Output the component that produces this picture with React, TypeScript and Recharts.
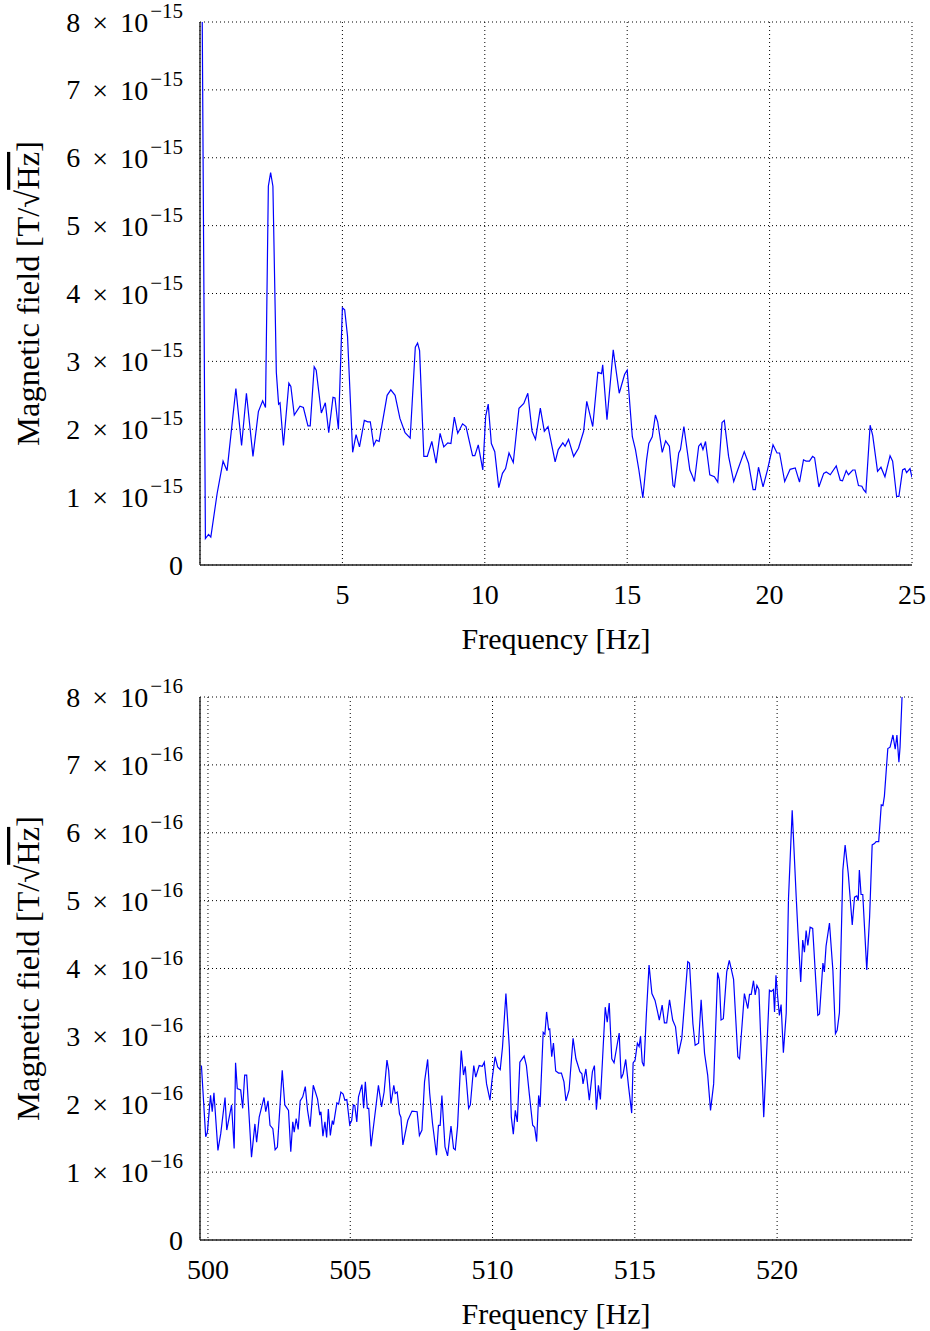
import React from "react";
import { LineChart, Line, XAxis, YAxis, CartesianGrid, Label } from "recharts";

// low-frequency spectrum (values in units of 1e-15 T/sqrt(Hz))
const lowFreq = [
  0.05, 0.19, 0.3, 0.38, 0.6, 0.81, 0.95, 1.26, 1.46, 1.63, 1.86, 2.05, 2.2, 2.3, 2.4, 2.48, 2.56, 2.68, 2.76, 2.81,
  2.93, 3.12, 3.19, 3.31, 3.51, 3.63, 3.79, 3.87, 4.01, 4.08, 4.26, 4.4, 4.52, 4.67, 4.74, 4.86, 5.0, 5.08, 5.18, 5.36,
  5.48, 5.6, 5.77, 5.89, 5.98, 6.1, 6.19, 6.29, 6.57, 6.7, 6.85, 7.02, 7.2, 7.38, 7.56, 7.64, 7.71, 7.86, 7.98, 8.14,
  8.29, 8.43, 8.56, 8.7, 8.81, 8.93, 9.05, 9.22, 9.34, 9.57, 9.65, 9.77, 9.93, 10.03, 10.12, 10.23, 10.35, 10.49, 10.62, 10.73,
  10.85, 11.0, 11.2, 11.37, 11.51, 11.66, 11.78, 11.95, 12.09, 12.22, 12.47, 12.58, 12.74, 12.82, 12.94, 13.12, 13.29, 13.47, 13.58, 13.79,
  13.97, 14.1, 14.14, 14.29, 14.51, 14.72, 14.91, 15.0, 15.18, 15.29, 15.41, 15.55, 15.68, 15.76, 15.88, 15.99, 16.07, 16.23, 16.35, 16.48,
  16.61, 16.66, 16.81, 16.87, 16.99, 17.2, 17.28, 17.36, 17.51, 17.59, 17.66, 17.75, 17.9, 18.06, 18.18, 18.33, 18.41, 18.56, 18.74, 18.88,
  19.11, 19.26, 19.42, 19.5, 19.61, 19.77, 19.93, 20.12, 20.26, 20.35, 20.53, 20.72, 20.9, 21.05, 21.19, 21.28, 21.4, 21.51, 21.58, 21.73,
  21.9, 21.99, 22.13, 22.34, 22.48, 22.56, 22.69, 22.77, 22.92, 23.0, 23.12, 23.24, 23.3, 23.38, 23.53, 23.62, 23.79, 23.91, 24.05, 24.23,
  24.32, 24.46, 24.54, 24.67, 24.75, 24.81, 24.93, 25.0,
];
const lowField = [
  10, 0.39, 0.45, 0.41, 1.05, 1.53, 1.39, 2.6, 1.76, 2.53, 1.6, 2.26, 2.42, 2.32, 5.58, 5.78, 5.58, 2.84, 2.37, 2.39,
  1.76, 2.68, 2.63, 2.21, 2.34, 2.32, 2.05, 2.05, 2.92, 2.87, 2.24, 2.39, 1.95, 2.47, 2.46, 2.0, 3.79, 3.76, 3.37, 1.66,
  1.92, 1.74, 2.13, 2.11, 2.11, 1.76, 1.84, 1.82, 2.5, 2.58, 2.5, 2.16, 1.95, 1.87, 3.21, 3.27, 3.16, 1.6, 1.6, 1.82,
  1.5, 1.94, 1.74, 1.8, 1.79, 2.18, 1.94, 2.08, 2.04, 1.61, 1.61, 1.77, 1.4, 2.19, 2.37, 1.79, 1.67, 1.14, 1.35, 1.42,
  1.65, 1.51, 2.31, 2.38, 2.53, 1.97, 1.85, 2.31, 1.97, 2.04, 1.52, 1.7, 1.8, 1.75, 1.85, 1.6, 1.72, 1.97, 2.41, 2.04,
  2.84, 2.82, 2.95, 2.14, 3.17, 2.53, 2.81, 2.87, 1.89, 1.7, 1.4, 0.99, 1.55, 1.79, 1.89, 2.21, 2.11, 1.66, 1.83, 1.75,
  1.17, 1.15, 1.65, 1.7, 2.04, 1.4, 1.32, 1.23, 1.75, 1.79, 1.7, 1.82, 1.33, 1.3, 1.22, 2.1, 2.13, 1.6, 1.23, 1.4,
  1.67, 1.5, 1.11, 1.11, 1.44, 1.15, 1.41, 1.77, 1.65, 1.65, 1.23, 1.41, 1.43, 1.22, 1.55, 1.53, 1.53, 1.6, 1.58, 1.15,
  1.35, 1.37, 1.33, 1.46, 1.25, 1.24, 1.39, 1.33, 1.4, 1.4, 1.17, 1.16, 1.11, 1.07, 2.06, 1.91, 1.38, 1.44, 1.3, 1.61,
  1.53, 1.01, 1.01, 1.4, 1.42, 1.36, 1.42, 1.29,
];

// 500-525 Hz spectrum (values in units of 1e-16 T/sqrt(Hz))
const highFreq = [
  499.77, 499.92, 499.98, 500.09, 500.15, 500.21, 500.35, 500.45, 500.6, 500.66, 500.83, 500.92, 500.97, 501.03, 501.15, 501.22, 501.29, 501.36, 501.53, 501.65,
  501.71, 501.8, 501.97, 502.03, 502.11, 502.18, 502.28, 502.36, 502.44, 502.61, 502.7, 502.83, 502.91, 502.98, 503.03, 503.1, 503.17, 503.24, 503.33, 503.42,
  503.5, 503.59, 503.7, 503.85, 503.93, 503.97, 504.04, 504.11, 504.17, 504.23, 504.3, 504.37, 504.41, 504.53, 504.59, 504.67, 504.75, 504.81, 504.88, 504.98,
  505.05, 505.11, 505.16, 505.23, 505.29, 505.41, 505.47, 505.53, 505.6, 505.65, 505.73, 505.9, 505.99, 506.1, 506.19, 506.29, 506.35, 506.43, 506.53, 506.58,
  506.65, 506.73, 506.78, 506.85, 507.02, 507.17, 507.35, 507.43, 507.52, 507.61, 507.72, 507.79, 507.89, 508.03, 508.1, 508.16, 508.22, 508.33, 508.42, 508.54,
  508.63, 508.69, 508.77, 508.9, 508.98, 509.04, 509.16, 509.22, 509.34, 509.41, 509.53, 509.64, 509.71, 509.79, 509.91, 509.98, 510.09, 510.18, 510.27, 510.35,
  510.47, 510.59, 510.66, 510.73, 510.8, 510.87, 510.96, 511.11, 511.19, 511.29, 511.41, 511.48, 511.55, 511.62, 511.67, 511.78, 511.84, 511.9, 511.97, 512.01,
  512.08, 512.14, 512.22, 512.32, 512.42, 512.51, 512.58, 512.69, 512.83, 512.93, 513.07, 513.14, 513.18, 513.28, 513.4, 513.51, 513.58, 513.65, 513.72, 513.79,
  513.86, 513.96, 514.03, 514.1, 514.19, 514.27, 514.45, 514.52, 514.59, 514.68, 514.78, 514.89, 514.94, 515.01, 515.09, 515.15, 515.2, 515.26, 515.32, 515.41,
  515.5, 515.6, 515.71, 515.79, 515.86, 515.96, 516.04, 516.12, 516.22, 516.33, 516.43, 516.53, 516.65, 516.86, 516.92, 517.04, 517.12, 517.24, 517.33, 517.45,
  517.56, 517.66, 517.77, 517.91, 517.97, 518.03, 518.11, 518.23, 518.32, 518.47, 518.62, 518.68, 518.85, 518.97, 519.03, 519.09, 519.17, 519.23, 519.29, 519.36,
  519.53, 519.73, 519.79, 519.87, 519.91, 519.96, 520.02, 520.08, 520.14, 520.22, 520.32, 520.4, 520.53, 520.67, 520.73, 520.83, 520.9, 520.96, 521.02, 521.08,
  521.16, 521.25, 521.43, 521.49, 521.61, 521.66, 521.72, 521.84, 521.96, 522.05, 522.11, 522.19, 522.31, 522.39, 522.5, 522.64, 522.72, 522.8, 522.85, 522.89,
  522.95, 523.01, 523.15, 523.25, 523.34, 523.42, 523.48, 523.57, 523.66, 523.72, 523.77, 523.89, 523.97, 524.07, 524.15, 524.21, 524.28, 524.32, 524.39, 524.5,
];
const highField = [
  2.57, 1.52, 1.59, 2.13, 1.89, 2.17, 1.32, 1.57, 2.1, 1.62, 1.99, 1.35, 2.61, 2.23, 2.21, 1.94, 2.43, 2.43, 1.22, 1.71,
  1.44, 1.81, 2.1, 1.89, 2.05, 1.69, 1.64, 1.33, 1.37, 2.5, 1.99, 1.91, 1.3, 1.74, 1.59, 1.79, 1.63, 2.05, 2.11, 2.26,
  1.91, 1.67, 2.28, 2.08, 1.84, 1.89, 1.53, 1.74, 1.51, 1.93, 1.54, 1.76, 1.7, 2.02, 2.0, 2.18, 2.15, 2.06, 2.07, 1.7,
  1.76, 1.99, 1.98, 1.74, 2.11, 2.29, 1.94, 2.33, 1.94, 1.94, 1.38, 1.96, 2.28, 1.96, 2.18, 2.65, 2.5, 2.01, 2.28, 2.16,
  2.18, 1.86, 1.81, 1.4, 1.76, 1.9, 1.89, 1.54, 1.62, 2.33, 2.66, 2.17, 1.72, 1.25, 1.69, 1.69, 2.13, 1.37, 1.24, 1.68,
  1.35, 1.33, 1.67, 2.79, 2.43, 2.56, 1.94, 1.99, 2.57, 2.4, 2.57, 2.56, 2.62, 2.3, 2.06, 2.35, 2.7, 2.55, 2.51, 2.84,
  3.63, 2.84, 1.81, 1.56, 1.91, 1.74, 2.62, 2.71, 2.57, 2.16, 1.69, 1.66, 1.45, 2.13, 1.96, 3.06, 3.03, 3.36, 3.1, 3.11,
  2.7, 2.9, 2.49, 2.46, 2.46, 2.33, 2.05, 2.21, 2.97, 2.67, 2.48, 2.45, 2.3, 2.52, 2.06, 2.48, 2.57, 1.92, 2.28, 2.07,
  2.62, 3.43, 3.21, 3.49, 2.67, 2.61, 3.05, 2.38, 2.45, 2.66, 2.26, 1.87, 2.61, 2.65, 2.9, 2.85, 3.0, 2.62, 2.56, 3.36,
  4.05, 3.63, 3.53, 3.38, 3.24, 3.46, 3.2, 3.2, 3.54, 3.24, 3.14, 2.74, 2.97, 4.1, 4.08, 3.19, 2.87, 2.9, 3.54, 2.75,
  2.43, 1.91, 2.3, 3.94, 3.83, 3.24, 3.26, 3.95, 4.12, 3.84, 2.7, 2.67, 3.63, 3.41, 3.62, 3.62, 3.82, 3.61, 3.75, 3.69,
  1.81, 3.68, 3.66, 3.69, 3.36, 3.9, 3.58, 3.31, 3.47, 2.76, 3.34, 5.03, 6.33, 5.06, 4.56, 3.8, 4.42, 4.24, 4.56, 4.34,
  4.61, 4.59, 3.31, 3.33, 4.08, 3.95, 4.33, 4.67, 3.97, 3.04, 3.09, 3.35, 5.45, 5.82, 5.4, 4.64, 5.05, 5.07, 5.0, 5.45,
  5.09, 5.09, 3.98, 4.76, 5.82, 5.84, 5.87, 5.87, 6.41, 6.4, 6.54, 7.24, 7.26, 7.44, 7.23, 7.44, 7.04, 7.26, 8.0, 9.5,
];

const lowTicks = [5, 10, 15, 20, 25];
const highTicks = [500, 505, 510, 515, 520];
const fieldTicks = [0, 1, 2, 3, 4, 5, 6, 7, 8];

const FONT = "'Liberation Serif', 'Times New Roman', serif";

const zip = (xs: number[], ys: number[]) => xs.map((f, i) => ({ f, b: ys[i] }));

function YTick({ x, y, payload, exp }: any) {
  if (payload.value === 0) {
    return (
      <text x={x - 17} y={y} textAnchor="end" dominantBaseline="central" fontFamily={FONT} fontSize={28} fill="#000">
        0
      </text>
    );
  }
  return (
    <text x={x - 17} y={y} textAnchor="end" dominantBaseline="central" fontFamily={FONT} fontSize={28} fill="#000">
      {payload.value}
      <tspan dx={12}>×</tspan>
      <tspan dx={12}>10</tspan>
      <tspan dx={2} dy={-11} fontSize={21}>{exp}</tspan>
    </text>
  );
}

function XTick({ x, y, payload }: any) {
  return (
    <text x={x} y={y + 29} textAnchor="middle" dominantBaseline="central" fontFamily={FONT} fontSize={28} fill="#000">
      {payload.value}
    </text>
  );
}

function XLabel({ viewBox }: any) {
  return (
    <text x={viewBox.x + viewBox.width / 2} y={viewBox.y + 73} textAnchor="middle" dominantBaseline="central" fontFamily={FONT} fontSize={30} fill="#000">
      Frequency [Hz]
    </text>
  );
}

function YLabel({ viewBox }: any) {
  const cx = 28;
  const cy = viewBox.y + viewBox.height / 2;
  return (
    <text x={cx} y={cy} transform={`rotate(-90, ${cx}, ${cy})`} textAnchor="middle" dominantBaseline="central" fontFamily={FONT} fontSize={32.5} fill="#000">
      {"Magnetic field [T/√"}
      <tspan style={{ textDecoration: "overline" }}>Hz</tspan>
      {"]"}
    </text>
  );
}

function Panel({ data, domain, ticks, exp, height, bottom }: any) {
  return (
    <LineChart width={930} height={height} data={data} margin={{ top: 22, right: 18, bottom, left: 8 }}>
      <CartesianGrid stroke="#000" strokeDasharray="1 3" strokeWidth={1} />
      <XAxis
        dataKey="f"
        type="number"
        domain={domain}
        ticks={ticks}
        allowDataOverflow
        height={60}
        tickSize={0}
        tickMargin={0}
        tick={<XTick />}
        axisLine={{ stroke: "#222", strokeWidth: 1.4 }}
      >
        <Label content={<XLabel />} />
      </XAxis>
      <XAxis xAxisId="top" orientation="top" dataKey="f" type="number" domain={domain} allowDataOverflow height={0} tick={false} tickLine={false} axisLine={{ stroke: "#222", strokeWidth: 1.4 }} />
      <YAxis
        type="number"
        domain={[0, 8]}
        ticks={fieldTicks}
        allowDataOverflow
        width={192}
        tickSize={0}
        tickMargin={0}
        tick={<YTick exp={exp} />}
        axisLine={{ stroke: "#222", strokeWidth: 1.4 }}
      >
        <Label content={<YLabel />} />
      </YAxis>
      <YAxis yAxisId="right" orientation="right" type="number" domain={[0, 8]} allowDataOverflow width={0} tick={false} tickLine={false} axisLine={{ stroke: "#222", strokeWidth: 1.4 }} />
      <Line type="linear" dataKey="b" stroke="#0000ff" strokeWidth={1.2} dot={false} isAnimationActive={false} />
    </LineChart>
  );
}

export default function App() {
  return (
    <div style={{ width: 930 }}>
      <style>{"body { margin: 0; } svg.recharts-surface { overflow: visible; }"}</style>
      <Panel data={zip(lowFreq, lowField)} domain={[0, 25]} ticks={lowTicks} exp="−15" height={675} bottom={50} />
      <Panel data={zip(highFreq, highField)} domain={[499.72, 524.74]} ticks={highTicks} exp="−16" height={656} bottom={31} />
    </div>
  );
}
